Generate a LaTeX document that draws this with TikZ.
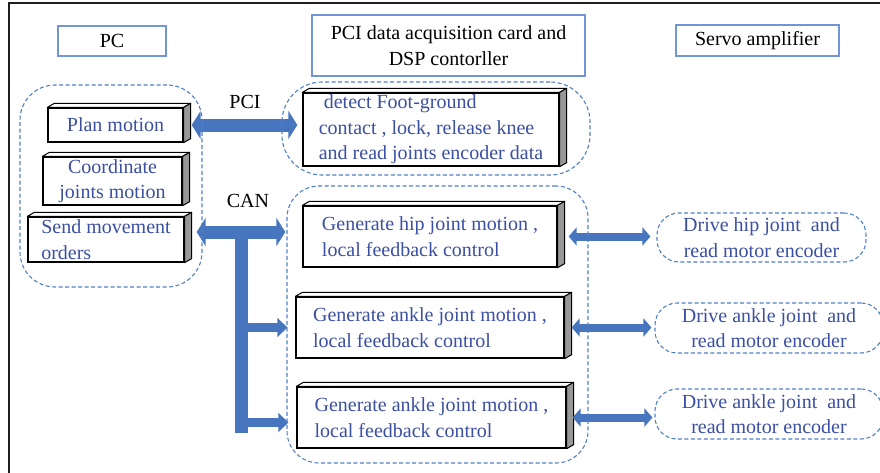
\documentclass[tikz,border=0pt]{standalone}
\usepackage{fontspec}
\setmainfont{Liberation Serif}
\usetikzlibrary{arrows.meta,calc}

\definecolor{txtblue}{RGB}{59,79,163}
\definecolor{dashblue}{RGB}{80,128,198}
\definecolor{arrowblue}{RGB}{72,118,190}
\definecolor{titleblue}{RGB}{112,150,212}
\definecolor{sidegray}{RGB}{152,152,152}

\tikzset{
  txt/.style={font=\fontsize{20}{25.5}\selectfont},
  blk/.style={txt, draw=black, line width=1.3pt, fill=white, text=txtblue,
    align=left, inner sep=0pt},
  facestyle/.style={draw=black, line width=1pt, line join=round},
  titlebox/.style={txt, draw=titleblue, line width=1.5pt, align=center,
    inner sep=0pt, text=black},
  group/.style={draw=dashblue, line width=1.1pt, dash pattern=on 4pt off 2.5pt},
  drvbox/.style={txt, group, rounded corners=22pt, align=center, text=txtblue,
    inner sep=0pt},
  bigarrow/.style={draw=arrowblue, line width=13pt,
    {Triangle[length=9pt 0 0,width=28pt 0 0]}-{Triangle[length=9pt 0 0,width=28pt 0 0]}},
  busline/.style={draw=arrowblue, line width=13pt},
  brarrow/.style={draw=arrowblue, line width=9pt,
    -{Triangle[length=10pt 0 0,width=19pt 0 0]}},
  medarrow/.style={draw=arrowblue, line width=8pt,
    {Triangle[length=8pt 0 0,width=18pt 0 0]}-{Triangle[length=8pt 0 0,width=18pt 0 0]}},
}

% top and side faces of a raised box
\newcommand\extrude[1]{%
  \draw[facestyle,fill=white] (#1.north west) -- ++(7,-4)
    -- ([shift={(7pt,4pt)}]#1.north east) -- (#1.north east) -- cycle;
  \draw[facestyle,fill=sidegray] (#1.north east) -- ++(7,-4)
    -- ([shift={(7pt,4pt)}]#1.south east) -- (#1.south east) -- cycle;
}

\begin{document}
\begin{tikzpicture}[x=1pt,y=-1pt]
\useasboundingbox (0,0) rectangle (880,472);

% frame lines
\draw[line width=2.6pt, black!88] (8,3) -- (882,3);
\draw[line width=2.6pt, black!88] (9,3) -- (9,474);

% column titles
\node[titlebox, minimum width=108pt, minimum height=30pt] (pc) at (112,41) {PC};
\node[titlebox, minimum width=273pt, minimum height=61pt] (card) at (448.5,45.5)
  {PCI data acquisition card and\\DSP contorller};
\node[titlebox, minimum width=163pt, minimum height=31pt] (servo) at (757.5,40.5) {Servo amplifier};

% PC tasks
\node[blk, minimum width=135pt, minimum height=34pt] (plan) at (115.5,125) {Plan motion};
\node[blk, align=center, minimum width=139pt, minimum height=48pt] (coord) at (112.5,181) {Coordinate\\joints motion};
\node[blk, minimum width=156pt, minimum height=45pt] (send) at (106,239.5) {Send movement\\orders};
\extrude{plan}\extrude{coord}\extrude{send}

% card / DSP tasks
\node[blk, minimum width=256pt, minimum height=73pt] (detect) at (431,129.5)
  {\hspace{5pt}detect Foot-ground\\contact , lock, release knee\\and read joints encoder data};
\node[blk, minimum width=254pt, minimum height=61pt] (hip) at (430,236.5)
  {Generate hip joint motion ,\\local feedback control};
\node[blk, minimum width=268pt, minimum height=61pt] (ankA) at (430,327.5)
  {Generate ankle joint motion ,\\local feedback control};
\node[blk, minimum width=269pt, minimum height=61pt] (ankB) at (431.5,417.5)
  {Generate ankle joint motion ,\\local feedback control};
\extrude{detect}\extrude{hip}\extrude{ankA}\extrude{ankB}

% servo amplifier tasks
\node[drvbox, minimum width=209pt, minimum height=49pt] (drvH) at (761.5,237.5)
  {Drive hip joint\ \ and\\read motor encoder};
\node[drvbox, minimum width=228pt, minimum height=50pt] (drvA) at (769,328)
  {Drive ankle joint\ \ and\\read motor encoder};
\node[drvbox, minimum width=228pt, minimum height=50pt] (drvB) at (769,414)
  {Drive ankle joint\ \ and\\read motor encoder};

% bus labels
\node[txt] (pcilbl) at (245,102) {PCI};
\node[txt] (canlbl) at (248,201) {CAN};

% PCI link
\draw[bigarrow] ($(plan.east)+(8,0)$) -- ($(detect.west |- plan.east)+(-5,0)$);

% CAN bus
\coordinate (canL) at ($(send.east)+(12,-7.5)$);
\coordinate (canR) at ($(hip.west)+(-17,-4.5)$);
\coordinate (busTop) at ($(canL)!0.5!(canR)$);
\coordinate (busBot) at ($(busTop |- ankB.west)+(0,15)$);
\draw[bigarrow] (canL) -- (canR);
\draw[busline] (busTop) -- (busBot);
\draw[brarrow] ($(busTop |- ankA.west)+(-2,0)$) -- ($(ankA.west)+(-8,0)$);
\draw[brarrow] ($(busTop |- ankB.west)+(-2,5)$) -- ($(ankB.west)+(-8,5)$);

% links to servo amplifiers
\draw[medarrow] ($(hip.east)+(11,0)$) -- ($(hip.east -| drvH.west)+(-6,0)$);
\draw[medarrow] ($(ankA.east)+(7,0)$) -- ($(ankA.east -| drvA.west)+(-3,0)$);
\draw[medarrow] ($(ankB.east)+(6,0)$) -- ($(ankB.east -| drvB.west)+(-2,0)$);

% dashed groupings
\node[group, rounded corners=35pt, minimum width=182pt, minimum height=202pt] (pcgrp) at (111,186) {};
\node[group, rounded corners=40pt, minimum width=308pt, minimum height=93pt] (cardgrp) at (436,128.5) {};
\node[group, rounded corners=32pt, minimum width=301pt, minimum height=277pt] (dspgrp) at (437.5,324.5) {};
\end{tikzpicture}
\end{document}
